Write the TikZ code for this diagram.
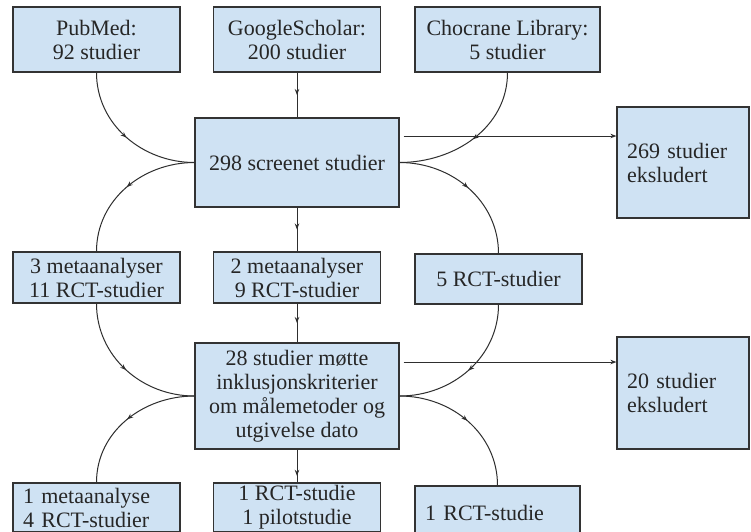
\documentclass[tikz,border=0pt]{standalone}
\usepackage{fontspec}
\setmainfont{Liberation Serif}
\usetikzlibrary{arrows.meta,decorations.markings,calc}
\definecolor{boxfill}{HTML}{CFE2F3}
\definecolor{boxline}{HTML}{333333}
\definecolor{connline}{HTML}{2E2E2E}
\begin{document}
\begin{tikzpicture}[x=1pt,y=-1pt,
  >={Stealth[length=6pt,width=4.5pt]},
  box/.style={draw=boxline, fill=boxfill, line width=1.2pt, inner sep=0pt,
    align=center, font=\fontsize{22}{24}\selectfont, text=black!85},
  lbox/.style={box, align=left, inner xsep=10pt},
  conn/.style={draw=connline, line width=1pt},
  midarrow/.style={postaction={decorate}, decoration={markings,
    mark=at position #1 with {\arrow{>}}}},
  midarrow/.default=0.5,
  endarrow/.style={->}
]
\fill[white] (0,0) rectangle (751,531);
\useasboundingbox (0,0) rectangle (751,531);

% top row
\node[box, minimum width=167pt, minimum height=65pt] (pub) at (96.5,39.5) {PubMed:\\92 studier};
\node[box, minimum width=167pt, minimum height=65pt] (goo) at (297,39.5) {GoogleScholar:\\200 studier};
\node[box, minimum width=185pt, minimum height=65pt] (cho) at (507.5,39.5) {Chocrane Library:\\5 studier};

% screened
\node[box, minimum width=204pt, minimum height=89pt] (s298) at (297,162.5) {298 screenet studier};
\node[lbox, text width=112pt, minimum height=111pt] (ex269) at (683,162.5) {269 studier\\eksludert};

% middle row
\node[box, minimum width=167pt, minimum height=51pt] (m3) at (96.5,277.5) {3 metaanalyser\\11 RCT-studier};
\node[box, minimum width=167pt, minimum height=51pt] (m2) at (297,277.5) {2 metaanalyser\\9 RCT-studier};
\node[box, minimum width=167pt, minimum height=50pt] (r5) at (498.5,279) {5 RCT-studier};

% inclusion
\node[box, minimum width=204pt, minimum height=106pt] (s28) at (297,396) {28 studier møtte\\inklusjonskriterier\\om målemetoder og\\utgivelse dato};
\node[lbox, text width=112pt, minimum height=112pt] (ex20) at (683,393) {20 studier\\eksludert};

% bottom row
\node[lbox, text width=147pt, minimum height=49pt] (b1) at (96.5,507.5) {1 metaanalyse\\4 RCT-studier};
\node[box, minimum width=167pt, minimum height=49pt] (b2) at (297,507.5) {1 RCT-studie\\1 pilotstudie};
\node[lbox, text width=145pt, minimum height=54pt] (b3) at (497.5,513) {1 RCT-studie};

% connectors
\coordinate (a1) at ($(s298.east)+(4,-26.5)$);
\coordinate (a2) at ($(s28.east)+(4,-34)$);

\draw[conn, midarrow] (pub.south) to[out=-90,in=180] (s298.west);
\draw[conn, midarrow] (goo.south) -- (s298.north);
\draw[conn, midarrow] (cho.south) to[out=-90,in=0] (s298.east);
\draw[conn, endarrow] (a1) -- (ex269.west |- a1);

\draw[conn, midarrow] (s298.west) to[out=180,in=90] (m3.north);
\draw[conn, midarrow] (s298.south) -- (m2.north);
\draw[conn, midarrow] (s298.east) to[out=0,in=90] (r5.north);

\draw[conn, midarrow] (m3.south) to[out=-90,in=180] (s28.west);
\draw[conn, midarrow] (m2.south) -- (s28.north);
\draw[conn, midarrow] (r5.south) to[out=-90,in=0] (s28.east);
\draw[conn, endarrow] (a2) -- (ex20.west |- a2);

\draw[conn, midarrow] (s28.west) to[out=180,in=90] (b1.north);
\draw[conn, midarrow=0.8] (s28.south) -- (b2.north);
\draw[conn, midarrow] (s28.east) to[out=0,in=90] (b3.north);
\end{tikzpicture}
\end{document}
